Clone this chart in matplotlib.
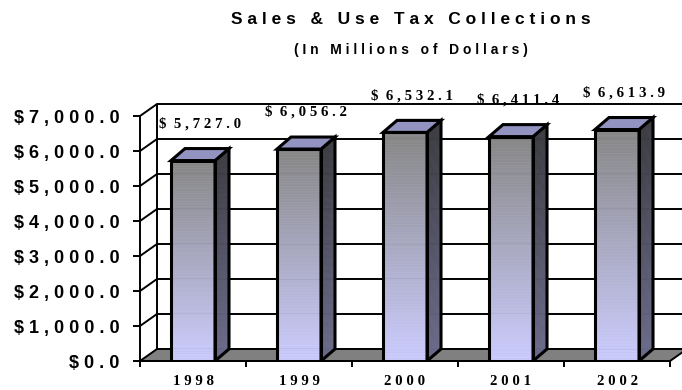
import numpy as np
import matplotlib
matplotlib.use("Agg")
import matplotlib.pyplot as plt
from matplotlib.patches import Polygon, Rectangle
from matplotlib.collections import PolyCollection
from matplotlib.colors import LinearSegmentedColormap

years = ["1998", "1999", "2000", "2001", "2002"]
collections = [5727.0, 6056.2, 6532.1, 6411.4, 6613.9]
y_ticks = [0, 1000, 2000, 3000, 4000, 5000, 6000, 7000]

title = "Sales & Use Tax Collections"
subtitle = "(In Millions of Dollars)"

W, H = 682, 390
SANS = "Liberation Sans"
SERIF = "Liberation Serif"


def spread(s):
    # old spreadsheet charts use wide character spacing
    return " ".join(s)


fig = plt.figure(figsize=(W / 100, H / 100), dpi=100)
ax_box = [140, 29, 542, 271]  # left, bottom, width, height in pixels
ax = fig.add_axes([ax_box[0] / W, ax_box[1] / H, ax_box[2] / W, ax_box[3] / H])
xmin, xmax = -0.5, 4.613
ymin, ymax = 0, 7743
ax.set_xlim(xmin, xmax)
ax.set_ylim(ymin, ymax)
ax.set_facecolor("none")

xpx = ax_box[2] / (xmax - xmin)
ypx = ax_box[3] / (ymax - ymin)


def off(dx, dy):
    return dx / xpx, dy / ypx


n = len(years)
fdx, fdy = off(17, 12)   # depth of the floor / walls
bdx, bdy = off(14, 12)   # depth of each bar
hw = off(22, 0)[0]       # half width of a bar front
lw = 1.4
x_end = xmax + off(10, 0)[0]

# floor
floor = Polygon([(-0.5, 0), (n - 0.5, 0), (n - 0.5 + fdx, fdy),
                 (-0.5 + fdx, fdy)], closed=True, facecolor="#808080",
                edgecolor="black", lw=lw, clip_on=False, zorder=2)
ax.add_patch(floor)

# side wall and back wall grid, drawn as open outlines
for t in y_ticks[1:]:
    ax.add_patch(Polygon([(-0.5, t), (-0.5 + fdx, t + fdy), (x_end, t + fdy)],
                         closed=False, fill=False, edgecolor="black", lw=lw,
                         clip_on=False, zorder=2.8))
ax.add_patch(Polygon([(-0.5 + fdx, fdy), (-0.5 + fdx, y_ticks[-1] + fdy)],
                     closed=False, fill=False, edgecolor="black", lw=lw,
                     clip_on=False, zorder=2.8))

front_cmap = LinearSegmentedColormap.from_list("front", ["#ccccff", "#868686"])
side_cmap = LinearSegmentedColormap.from_list("side", ["#6a6a8a", "#3a3a40"])
steps = 80


def shaded(verts_fn, v, cmap):
    # stack of thin slices from the floor to the bar top
    polys, cols = [], []
    for k in range(steps):
        a, b = v * k / steps, v * (k + 1) / steps
        polys.append(verts_fn(a, b))
        cols.append(cmap((k + 0.5) / steps))
    pc = PolyCollection(polys, facecolors=cols, edgecolors=cols,
                        linewidths=0.4, zorder=3)
    ax.add_collection(pc, autolim=False)


for i, v in enumerate(collections):
    x0, x1 = i - hw, i + hw

    shaded(lambda a, b: [(x0, a), (x1, a), (x1, b), (x0, b)], v, front_cmap)
    shaded(lambda a, b: [(x1, a), (x1 + bdx, a + bdy), (x1 + bdx, b + bdy),
                         (x1, b)], v, side_cmap)

    ax.add_patch(Rectangle((x0, 0), x1 - x0, v, facecolor="none",
                           edgecolor="black", lw=2.2, zorder=4))
    ax.add_patch(Polygon([(x1, 0), (x1 + bdx, bdy), (x1 + bdx, v + bdy),
                          (x1, v)], closed=True, facecolor="none",
                         edgecolor="black", lw=2.2, zorder=4))
    ax.add_patch(Polygon([(x0, v), (x1, v), (x1 + bdx, v + bdy),
                          (x0 + bdx, v + bdy)], closed=True,
                         facecolor="#9393c2", edgecolor="black", lw=2.2,
                         zorder=4))

    label = "$  " + spread(f"{v:,.1f}")
    ax.text(i + bdx / 2, v + bdy + off(0, 25)[1], label, ha="center",
            va="center", fontfamily=SERIF, fontweight="bold", fontsize=10.7,
            zorder=5, clip_on=False)

# axes
for s in ["top", "right"]:
    ax.spines[s].set_visible(False)
ax.spines["left"].set_bounds(0, y_ticks[-1])
ax.spines["bottom"].set_bounds(-0.5, n - 0.5)
ax.spines["left"].set_linewidth(lw)
ax.spines["bottom"].set_linewidth(lw)

ax.set_yticks(y_ticks)
ax.set_yticklabels([spread(f"${t:,.1f}") for t in y_ticks],
                   fontfamily=SANS, fontweight="bold", fontsize=13)
ax.tick_params(axis="y", length=5, width=lw, pad=10)

ax.set_xticks([i - 0.5 for i in range(n + 1)])
ax.set_xticklabels([])
ax.set_xticks(range(n), minor=True)
ax.set_xticklabels([spread(y) for y in years], minor=True, fontfamily=SERIF,
                   fontweight="bold", fontsize=10.7)
ax.tick_params(axis="x", which="major", length=4, width=lw)
ax.tick_params(axis="x", which="minor", length=0, pad=10)
ax.set_xlim(xmin, xmax)
ax.set_ylim(ymin, ymax)

fig.text(411 / W, 1 - 20 / H, spread(title), ha="center", va="center",
         fontfamily=SANS, fontweight="bold", fontsize=12.5)
fig.text(411 / W, 1 - 50 / H, spread(subtitle), ha="center", va="center",
         fontfamily=SANS, fontweight="bold", fontsize=10)

fig.savefig("out.png", dpi=100)
